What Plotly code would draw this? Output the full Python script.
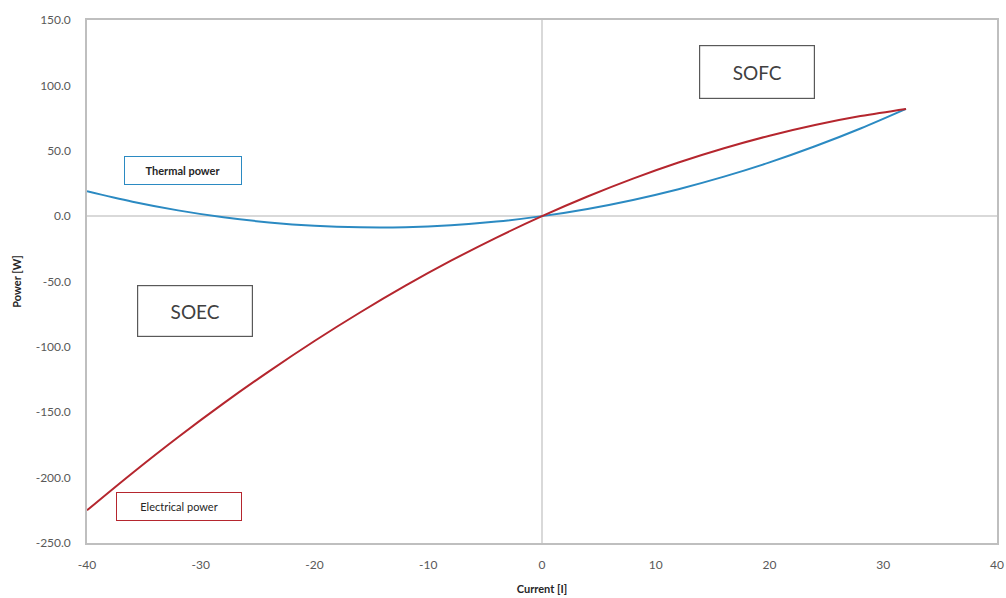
import plotly.graph_objects as go

current = [-40, -36, -32, -28, -24, -20, -16, -12, -8, -4, 0, 4, 8, 12, 16, 20, 24, 28, 32]
electrical_power = [-225.0, -196.4, -169.1, -143.2, -118.7, -95.5, -73.7, -53.2, -34.1, -16.4, 0.0,
                    15.0, 28.7, 41.0, 51.9, 61.5, 69.7, 76.5, 82.0]
thermal_power = [19.0, 11.0, 4.4, -0.9, -4.8, -7.4, -8.6, -8.5, -7.0, -4.2, 0.0,
                 5.5, 12.4, 20.6, 30.2, 41.1, 53.4, 67.0, 82.0]

x_ticks = [-40, -30, -20, -10, 0, 10, 20, 30, 40]
y_ticks = [150, 100, 50, 0, -50, -100, -150, -200, -250]

FONT = "Lato, Liberation Sans, Arial, sans-serif"
RED = "#B5262E"
BLUE = "#2B8AC2"

fig = go.Figure()
fig.add_trace(go.Scatter(x=current, y=thermal_power, mode="lines", name="Thermal power",
                         line=dict(color=BLUE, width=2, shape="spline")))
fig.add_trace(go.Scatter(x=current, y=electrical_power, mode="lines", name="Electrical power",
                         line=dict(color=RED, width=2, shape="spline")))

fig.update_layout(
    width=1006, height=598,
    margin=dict(l=87, r=9, t=20, b=55, autoexpand=False),
    paper_bgcolor="white", plot_bgcolor="white",
    showlegend=False,
    font=dict(family=FONT, color="#595959", size=12),
)
fig.update_xaxes(
    range=[-40, 40], tickvals=x_ticks, ticktext=[str(v) for v in x_ticks],
    showgrid=False, zeroline=True, zerolinecolor="#D9D9D9", zerolinewidth=1.5,
    showline=True, linecolor="#BFBFBF", linewidth=1.5, mirror=True,
    ticks="", tickfont=dict(size=12, color="#595959"), ticklabelstandoff=10,
    title=dict(text="<b>Current [I]</b>", font=dict(size=11, color="#262626"), standoff=14),
)
fig.update_yaxes(
    range=[-250, 150], tickvals=y_ticks, ticktext=[f"{v:.1f}" for v in y_ticks],
    showgrid=False, zeroline=True, zerolinecolor="#D9D9D9", zerolinewidth=1.5,
    showline=True, linecolor="#BFBFBF", linewidth=1.5, mirror=True,
    ticks="", tickfont=dict(size=12, color="#595959"), ticklabelstandoff=12,
    title=dict(text="<b>Power [W]</b>", font=dict(size=11, color="#262626"), standoff=12),
)

fig.add_annotation(x=18.9, y=110.5, xref="x", yref="y", text="SOFC", showarrow=False,
                   font=dict(size=19, color="#404040", family=FONT),
                   bordercolor="#595959", borderwidth=1.2, bgcolor="white",
                   width=112, height=50)
fig.add_annotation(x=-30.5, y=-72.4, xref="x", yref="y", text="SOEC", showarrow=False,
                   font=dict(size=19, color="#404040", family=FONT),
                   bordercolor="#595959", borderwidth=1.2, bgcolor="white",
                   width=112, height=48)
fig.add_annotation(x=-31.6, y=35, xref="x", yref="y", text="<b>Thermal power</b>", showarrow=False,
                   font=dict(size=11, color="#262626", family=FONT),
                   bordercolor=BLUE, borderwidth=1, bgcolor="white",
                   width=114, height=25)
fig.add_annotation(x=-31.9, y=-221.7, xref="x", yref="y", text="Electrical power", showarrow=False,
                   font=dict(size=11, color="#262626", family=FONT),
                   bordercolor=RED, borderwidth=1, bgcolor="white",
                   width=122, height=25)

fig.write_html("out.html")
